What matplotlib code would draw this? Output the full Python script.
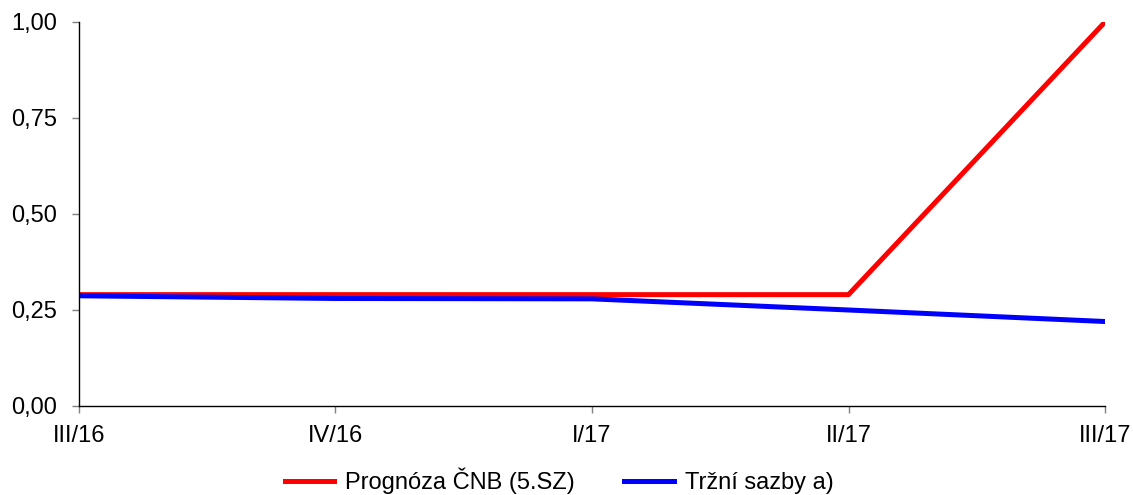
import matplotlib.pyplot as plt

plt.rcParams['font.family'] = ['Liberation Sans', 'DejaVu Sans']

quarters = ["III/16", "IV/16", "I/17", "II/17", "III/17"]
cnb_forecast = [0.29, 0.29, 0.29, 0.29, 1.00]
market_rates = [0.287, 0.28, 0.279, 0.25, 0.22]
y_ticks = [0.0, 0.25, 0.5, 0.75, 1.0]

fig = plt.figure(figsize=(11.33, 4.95), dpi=100)
ax = fig.add_axes([0.0697, 0.1798, 0.9056, 0.7758])

x = range(len(quarters))
ax.plot(x, cnb_forecast, color="#ff0000", lw=3.6, label="Prognóza ČNB (5.SZ)")
ax.plot(x, market_rates, color="#0000ff", lw=3.6, label="Tržní sazby a)")

ax.set_xlim(0, len(quarters) - 1)
ax.set_ylim(0, 1)
ax.set_xticks(list(x))
ax.set_xticklabels(quarters, fontsize=17)
ax.set_yticks(y_ticks)
ax.set_yticklabels([f"{v:.2f}".replace(".", ",") for v in y_ticks], fontsize=17)

for s in ["top", "right"]:
    ax.spines[s].set_visible(False)
for s in ["left", "bottom"]:
    ax.spines[s].set_linewidth(1.0)
ax.tick_params(axis="both", length=5, width=1, color="#808080")
ax.tick_params(axis="y", pad=11)
ax.tick_params(axis="x", pad=9)

ax.legend(loc="center", bbox_to_anchor=(0.468, -0.195), ncol=2, frameon=False,
          fontsize=17, handlelength=2.1, columnspacing=2.1, handletextpad=0.45)

fig.savefig("out.png", dpi=100)
